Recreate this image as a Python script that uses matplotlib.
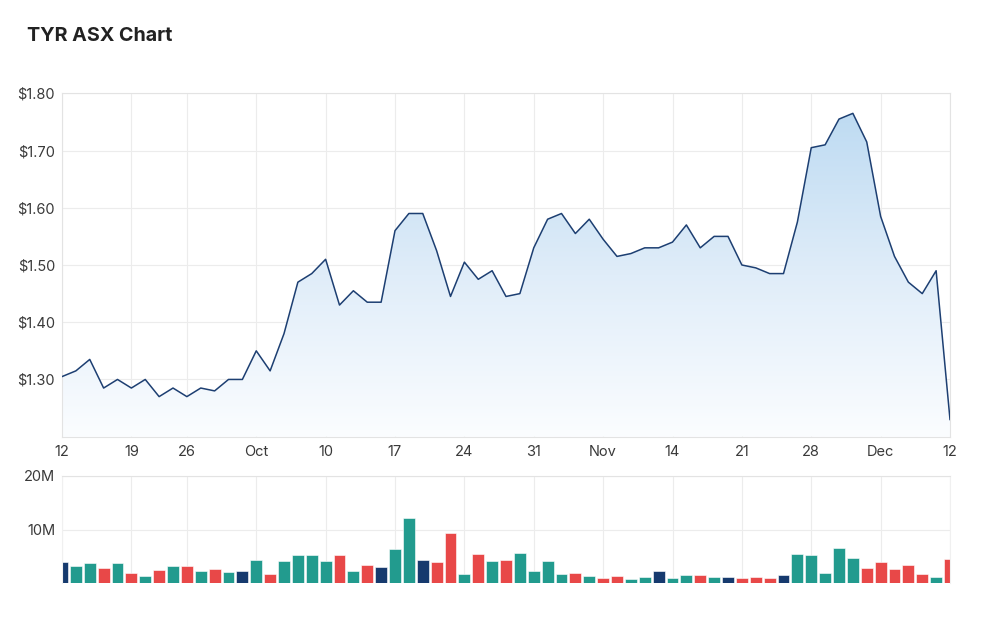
import numpy as np
import pandas as pd
import matplotlib
matplotlib.use('Agg')
import matplotlib.pyplot as plt
from matplotlib.ticker import FuncFormatter

# ---------------------------------------------------------------------------
# Data: TYR daily close and volume, 12 Sep - 12 Dec 2022 (ASX trading days)
# ---------------------------------------------------------------------------
dates = pd.bdate_range('2022-09-12', '2022-12-12')
dates = dates[dates != pd.Timestamp('2022-09-22')]   # ASX closed (day of mourning)

close = [1.305, 1.315, 1.335, 1.285, 1.300, 1.285, 1.300, 1.270, 1.285, 1.270,
         1.285, 1.280, 1.300, 1.300, 1.350, 1.315, 1.380, 1.470, 1.485, 1.510,
         1.430, 1.455, 1.435, 1.435, 1.560, 1.590, 1.590, 1.525, 1.445, 1.505,
         1.475, 1.490, 1.445, 1.450, 1.530, 1.580, 1.590, 1.555, 1.580, 1.545,
         1.515, 1.520, 1.530, 1.530, 1.540, 1.570, 1.530, 1.550, 1.550, 1.500,
         1.495, 1.485, 1.485, 1.575, 1.705, 1.710, 1.755, 1.765, 1.715, 1.585,
         1.515, 1.470, 1.450, 1.490, 1.230]

volume_m = [3.9, 3.3, 3.7, 2.9, 3.7, 1.9, 1.3, 2.5, 3.3, 3.2,
            2.3, 2.7, 2.1, 2.3, 4.3, 1.7, 4.1, 5.2, 5.2, 4.1,
            5.2, 2.3, 3.4, 3.1, 6.3, 12.2, 4.3, 3.9, 9.4, 1.7,
            5.5, 4.1, 4.3, 5.7, 2.3, 4.1, 1.7, 1.9, 1.3, 0.9,
            1.3, 0.75, 1.1, 2.3, 0.9, 1.55, 1.55, 1.1, 1.1, 0.9,
            1.1, 0.9, 1.55, 5.5, 5.2, 1.9, 6.5, 4.7, 2.9, 3.9,
            2.7, 3.4, 1.7, 1.1, 4.5]

price_ticks = [1.30, 1.40, 1.50, 1.60, 1.70, 1.80]
volume_ticks = [10, 20]

# ---------------------------------------------------------------------------
# Styles
# ---------------------------------------------------------------------------
LINE = '#1d3f72'
UP, DOWN, FLAT = '#229b8e', '#e84848', '#163a6e'
GRID = '#ececec'
TEXT = '#3a3a3a'

x = np.arange(len(close))
close = np.array(close)
diff = np.round(np.diff(close, prepend=np.nan), 3)
bar_colors = [FLAT if (np.isnan(d) or d == 0) else (UP if d > 0 else DOWN) for d in diff]

# weekly ticks on Mondays, month name for the first tick of a month
tick_pos, tick_lab = [], []
prev_month = dates[0].month
for i, d in enumerate(dates):
    if d.weekday() == 0:
        tick_pos.append(i)
        if d.month != prev_month:
            tick_lab.append(d.strftime('%b'))
        else:
            tick_lab.append(str(d.day))
        prev_month = d.month

plt.rcParams['font.family'] = ['Inter', 'DejaVu Sans']

fig = plt.figure(figsize=(10, 6.18), dpi=100)
ax1 = fig.add_axes([0.062, 0.2934, 0.888, 0.5556])
ax2 = fig.add_axes([0.062, 0.0561, 0.888, 0.1742])

fig.text(0.027, 0.942, 'TYR ASX Chart', fontsize=14.2, fontweight='bold',
         color='#222222', va='center', ha='left')

# ── Price panel ──────────────────────────────────────────────────────────
y0, y1 = 1.20, 1.80
poly = ax1.fill_between(x, close, y0, color='none', lw=0)
grad = np.linspace(1, 0, 256).reshape(-1, 1)
cmap = matplotlib.colors.LinearSegmentedColormap.from_list(
    'fade', ['#fbfdff', '#e0edf9', '#bedbf2'])
img = ax1.imshow(grad[::-1], cmap=cmap, aspect='auto', origin='lower',
                 extent=[x[0], x[-1], y0, close.max()], zorder=1)
img.set_clip_path(poly.get_paths()[0], transform=ax1.transData)
ax1.plot(x, close, color=LINE, lw=1.1, zorder=3)

ax1.set_xlim(x[0], x[-1])
ax1.set_ylim(y0, y1)
ax1.set_yticks(price_ticks)
ax1.yaxis.set_major_formatter(FuncFormatter(lambda v, _: f'${v:.2f}'))
ax1.set_xticks(tick_pos)
ax1.set_xticklabels(tick_lab)
ax1.grid(True, color=GRID, lw=0.8, zorder=0)
ax1.set_axisbelow(True)

# ── Volume panel ─────────────────────────────────────────────────────────
ax2.bar(x, volume_m, width=0.86, color=bar_colors, edgecolor='white',
        linewidth=0.4, zorder=2)
ax2.set_xlim(x[0], x[-1])
ax2.set_ylim(0, 20)
ax2.set_yticks(volume_ticks)
ax2.set_yticklabels([f'{v}M' for v in volume_ticks])
ax2.set_xticks(tick_pos)
ax2.tick_params(axis='x', labelbottom=False)
ax2.grid(True, color=GRID, lw=0.8, zorder=0)
ax2.set_axisbelow(True)

for ax in (ax1, ax2):
    for side, sp in ax.spines.items():
        sp.set_color('#e3e3e3')
        sp.set_linewidth(0.8)
    ax.tick_params(length=0, labelsize=10.5, colors=TEXT, pad=5)
ax2.spines['bottom'].set_visible(False)
ax2.spines['left'].set_color('#f0f0f0')
ax2.spines['right'].set_color('#f0f0f0')
ax1.tick_params(axis='x', pad=6)

fig.savefig('out.png', dpi=100)
